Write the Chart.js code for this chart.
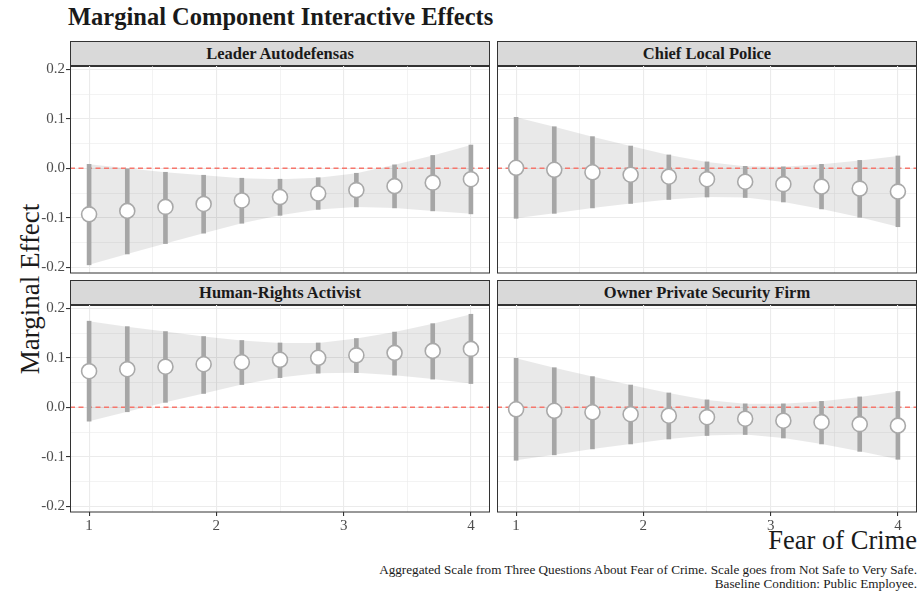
<!DOCTYPE html>
<html>
<head>
<meta charset="utf-8">
<script src="https://cdn.jsdelivr.net/npm/chart.js@4.4.1/dist/chart.umd.min.js"></script>
<style>
  body { margin: 0; background: #fff; width: 921px; height: 596px; position: relative; overflow: hidden;
         font-family: "Liberation Serif", serif; color: #1a1a1a; }
  canvas { position: absolute; }
  .strip { position: absolute; height: 26px; background: #d9d9d9; border: 1px solid #333; box-sizing: border-box;
           text-align: center; font-weight: bold; font-size: 16.5px; line-height: 24px; color: #1a1a1a; }
  #title { position: absolute; left: 68px; top: 3px; font-size: 24.5px; font-weight: bold; }
  #ylab { position: absolute; left: 30px; top: 289px; font-size: 27px; white-space: nowrap;
          transform: translate(-50%, -50%) rotate(-90deg); }
  #xlab { position: absolute; right: 4px; top: 525px; font-size: 26.5px; }
  #caption { position: absolute; right: 4px; top: 563px; font-size: 13.2px; line-height: 14px; text-align: right; }
</style>
</head>
<body>
<div id="title">Marginal Component Interactive Effects</div>
<div id="ylab">Marginal Effect</div>
<div id="xlab">Fear of Crime</div>
<div id="caption">Aggregated Scale from Three Questions About Fear of Crime. Scale goes from Not Safe to Very Safe.<br>Baseline Condition: Public Employee.</div>

<script>
// data
var panels = ["Leader Autodefensas", "Chief Local Police", "Human-Rights Activist", "Owner Private Security Firm"];
var fear = [1, 1.3, 1.6, 1.9, 2.2, 2.5, 2.8, 3.1, 3.4, 3.7, 4];

var leaderEst   = [-0.093, -0.086, -0.078, -0.072, -0.065, -0.058, -0.051, -0.044, -0.036, -0.029, -0.022];
var leaderLow   = [-0.195, -0.173, -0.152, -0.131, -0.111, -0.095, -0.083, -0.078, -0.080, -0.086, -0.092];
var leaderHigh  = [0.008, 0.000, -0.008, -0.014, -0.020, -0.022, -0.019, -0.010, 0.007, 0.026, 0.047];

var chiefEst    = [0.001, -0.003, -0.008, -0.013, -0.017, -0.022, -0.027, -0.032, -0.037, -0.041, -0.047];
var chiefLow    = [-0.101, -0.091, -0.080, -0.071, -0.063, -0.058, -0.059, -0.068, -0.082, -0.099, -0.118];
var chiefHigh   = [0.103, 0.084, 0.064, 0.045, 0.027, 0.013, 0.004, 0.003, 0.008, 0.016, 0.025];

var activistEst  = [0.073, 0.077, 0.082, 0.087, 0.091, 0.096, 0.100, 0.105, 0.110, 0.114, 0.118];
var activistLow  = [-0.028, -0.009, 0.010, 0.028, 0.046, 0.060, 0.069, 0.070, 0.065, 0.057, 0.048];
var activistHigh = [0.174, 0.163, 0.153, 0.143, 0.135, 0.130, 0.130, 0.139, 0.152, 0.169, 0.188];

var ownerEst    = [-0.004, -0.007, -0.010, -0.014, -0.017, -0.020, -0.023, -0.027, -0.030, -0.034, -0.037];
var ownerLow    = [-0.107, -0.096, -0.084, -0.074, -0.064, -0.057, -0.055, -0.062, -0.074, -0.089, -0.105];
var ownerHigh   = [0.099, 0.080, 0.062, 0.045, 0.029, 0.015, 0.007, 0.007, 0.012, 0.021, 0.032];

var yTicks = [-0.2, -0.1, 0.0, 0.1, 0.2];
var xTicks = [1, 2, 3, 4];
var X_MIN = 0.85, X_MAX = 4.15;
var Y_MIN = -0.2115, Y_MAX = 0.2067;

// layout of the four panels (plot area in page px)
var boxes = [
    { left: 70,  top: 66,  showY: true,  showX: false },
    { left: 497, top: 66,  showY: false, showX: false },
    { left: 70,  top: 305, showY: true,  showX: true },
    { left: 497, top: 305, showY: false, showX: true }
];
var PW = 420, PH = 207, PAD = 12;
var series = [
    [leaderEst, leaderLow, leaderHigh],
    [chiefEst, chiefLow, chiefHigh],
    [activistEst, activistLow, activistHigh],
    [ownerEst, ownerLow, ownerHigh]
];
var tickFont = { family: "'Liberation Serif', serif", size: 15 };

function isMajor(v, step) {
    var r = v / step;
    return Math.abs(r - Math.round(r)) < 1e-6;
}
function pts(xs, ys) {
    return xs.map(function (x, i) { return { x: x, y: ys[i] }; });
}

var panelBorder = {
    id: 'panelBorder',
    afterDraw: function (chart) {
        var a = chart.chartArea, c = chart.ctx;
        c.save();
        c.strokeStyle = '#333';
        c.lineWidth = 1;
        c.strokeRect(a.left + 0.5, a.top - 0.5, a.right - a.left - 1, a.bottom - a.top + 0.5);
        c.restore();
    }
};

boxes.forEach(function (b, k) {
    var strip = document.createElement('div');
    strip.className = 'strip';
    strip.style.left = b.left + 'px';
    strip.style.top = (b.top - 25) + 'px';
    strip.style.width = PW + 'px';
    strip.textContent = panels[k];
    document.body.appendChild(strip);

    var padL = b.showY ? 0 : 2;
    var yW = b.showY ? b.left : 0;
    var cLeft = b.showY ? 0 : b.left - 2;
    var xH = b.showX ? 28 : 0;
    var cTop = b.top - PAD;

    var cv = document.createElement('canvas');
    cv.style.left = cLeft + 'px';
    cv.style.top = cTop + 'px';
    var w = (b.left - cLeft) + PW + 2;
    var h = PAD + PH + xH + PAD;
    cv.width = w; cv.height = h;
    cv.style.width = w + 'px'; cv.style.height = h + 'px';
    document.body.appendChild(cv);

    var s = series[k];
    new Chart(cv.getContext('2d'), {
        type: 'line',
        data: {
            datasets: [
                { data: pts(fear, s[1]), borderWidth: 0, pointRadius: 0, order: 5 },
                { data: pts(fear, s[2]), borderWidth: 0, pointRadius: 0, fill: '-1',
                  backgroundColor: 'rgba(0,0,0,0.085)', order: 4 },
                { data: [{ x: X_MIN, y: 0 }, { x: X_MAX, y: 0 }], borderColor: '#f6766c', borderWidth: 1.4,
                  borderDash: [5, 3.5], pointRadius: 0, order: 3 },
                { type: 'bar', data: fear.map(function (x, i) { return { x: x, y: [s[1][i], s[2][i]] }; }),
                  backgroundColor: '#a6a6a6', barThickness: 4, order: 2 },
                { data: pts(fear, s[0]), showLine: false, pointRadius: 7.5, pointBorderWidth: 1.6,
                  pointBackgroundColor: '#ffffff', pointBorderColor: '#a9a9a9', order: 1 }
            ]
        },
        options: {
            responsive: false,
            animation: false,
            events: [],
            layout: { autoPadding: false, padding: { left: padL, right: 2, top: PAD, bottom: PAD } },
            plugins: { legend: { display: false }, tooltip: { enabled: false } },
            scales: {
                x: {
                    type: 'linear', min: X_MIN, max: X_MAX, offset: false,
                    afterFit: function (sc) { sc.height = xH; },
                    border: { display: false },
                    grid: {
                        offset: false,
                        color: '#ebebeb',
                        lineWidth: function (c) { return isMajor(c.tick.value, 1) ? 1.1 : 0.6; },
                        drawTicks: b.showX, tickLength: 4,
                        tickColor: function (c) { return isMajor(c.tick.value, 1) ? '#333' : 'rgba(0,0,0,0)'; }
                    },
                    ticks: {
                        display: b.showX, stepSize: 0.5, includeBounds: false, autoSkip: false, maxRotation: 0,
                        padding: 1, color: '#4d4d4d', font: tickFont,
                        callback: function (v) { return xTicks.indexOf(v) >= 0 ? String(v) : ''; }
                    }
                },
                y: {
                    min: Y_MIN, max: Y_MAX,
                    afterFit: function (sc) { sc.width = yW; },
                    border: { display: false },
                    grid: {
                        color: '#ebebeb',
                        lineWidth: function (c) { return isMajor(c.tick.value, 0.1) ? 1.1 : 0.6; },
                        drawTicks: b.showY, tickLength: 4,
                        tickColor: function (c) { return isMajor(c.tick.value, 0.1) ? '#333' : 'rgba(0,0,0,0)'; }
                    },
                    ticks: {
                        display: b.showY, stepSize: 0.05, includeBounds: false, autoSkip: false,
                        padding: 1, color: '#4d4d4d', font: tickFont,
                        callback: function (v) {
                            for (var i = 0; i < yTicks.length; i++) {
                                if (Math.abs(v - yTicks[i]) < 1e-6) return yTicks[i].toFixed(1);
                            }
                            return '';
                        }
                    }
                }
            }
        },
        plugins: [panelBorder]
    });
});
</script>
</body>
</html>
